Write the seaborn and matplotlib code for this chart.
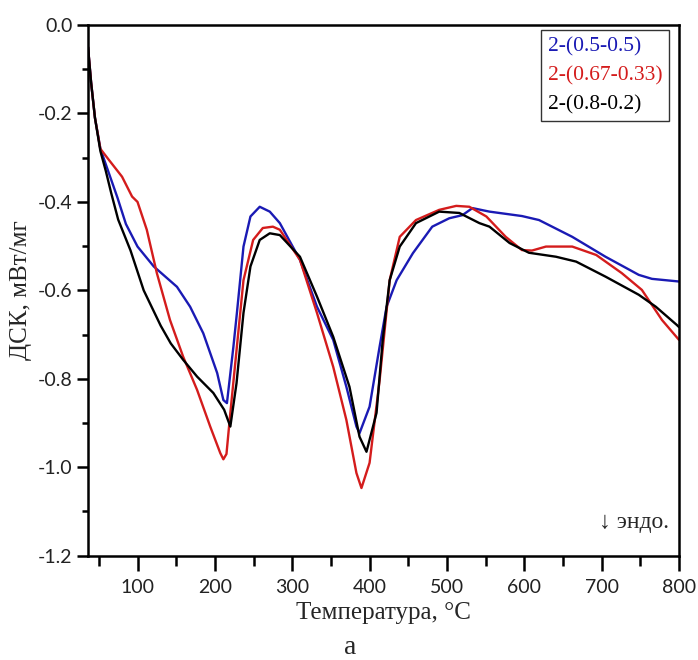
import numpy as np
import pandas as pd
import matplotlib
matplotlib.use("Agg")
import matplotlib.pyplot as plt
import seaborn as sns
from matplotlib.ticker import MultipleLocator

sns.set_theme(style="white")
plt.rcParams['axes.unicode_minus'] = False

labels = ["2-(0.5-0.5)", "2-(0.67-0.33)", "2-(0.8-0.2)"]
colors = ["#1a1ab4", "#d41c1c", "#000000"]

blue_x = [36, 40, 45, 52, 62, 74, 85, 100, 121, 151, 168, 185, 203, 211, 215.6, 224, 228.5, 237, 246, 258,
          271, 284, 310, 332, 353, 370, 383, 387, 400, 413, 422, 435, 456, 481, 503, 520, 533, 555, 597,
          619, 662, 705, 748, 765, 800]
blue_y = [-0.05, -0.13, -0.21, -0.28, -0.33, -0.39, -0.45, -0.501, -0.546, -0.592, -0.637, -0.697, -0.787,
          -0.848, -0.855, -0.727, -0.651, -0.501, -0.433, -0.411, -0.422, -0.448, -0.531, -0.637, -0.712,
          -0.818, -0.908, -0.923, -0.863, -0.727, -0.637, -0.577, -0.516, -0.456, -0.437, -0.43, -0.414,
          -0.422, -0.432, -0.441, -0.479, -0.524, -0.565, -0.574, -0.58]

red_x = [36, 40, 45, 52, 63, 80, 93, 100, 112, 125, 142, 159, 177, 194, 207, 211, 215, 220, 228.5, 237,
         249.5, 262, 275, 284, 310, 332, 353, 370, 383, 389.5, 400, 413, 426, 439, 460, 490, 512, 529, 551,
         576, 597, 610, 628, 662, 693, 726, 752, 765, 778, 800]
red_y = [-0.05, -0.13, -0.21, -0.28, -0.305, -0.343, -0.388, -0.40, -0.463, -0.561, -0.667, -0.75, -0.825,
         -0.908, -0.968, -0.982, -0.97, -0.877, -0.727, -0.577, -0.486, -0.459, -0.456, -0.463, -0.531,
         -0.651, -0.773, -0.893, -1.013, -1.047, -0.99, -0.803, -0.577, -0.479, -0.441, -0.418, -0.409,
         -0.411, -0.433, -0.479, -0.509, -0.51, -0.501, -0.501, -0.52, -0.561, -0.599, -0.633, -0.667,
         -0.712]

black_x = [36, 40, 45, 52, 59, 66, 75, 91, 108, 130, 143, 159, 177, 198, 212, 220, 228, 237, 246, 258,
           271, 284, 310, 332, 353, 374, 387, 396, 409, 417, 426, 439, 460, 490, 516, 542, 555, 581, 606,
           641, 667, 705, 748, 770, 797, 800]
black_y = [-0.05, -0.13, -0.21, -0.285, -0.33, -0.38, -0.44, -0.51, -0.6, -0.68, -0.72, -0.757, -0.795,
           -0.832, -0.87, -0.908, -0.81, -0.651, -0.546, -0.486, -0.471, -0.475, -0.524, -0.614, -0.705,
           -0.818, -0.931, -0.965, -0.877, -0.712, -0.577, -0.501, -0.448, -0.422, -0.425, -0.448, -0.456,
           -0.493, -0.515, -0.524, -0.535, -0.569, -0.61, -0.637, -0.678, -0.683]

frames = []
for lab, xs, ys in zip(labels, [blue_x, red_x, black_x], [blue_y, red_y, black_y]):
    frames.append(pd.DataFrame({"T": xs, "DSC": ys, "series": lab}))
df = pd.concat(frames, ignore_index=True)

fig = plt.figure(figsize=(6.98, 6.60), dpi=100)
ax = fig.add_axes([88/698, 1-555.7/660, (679-88)/698, (555.7-25)/660])

sns.lineplot(data=df, x="T", y="DSC", hue="series", hue_order=labels,
             palette=dict(zip(labels, colors)), sort=False, estimator=None,
             linewidth=1.7, ax=ax, legend=False)

ax.set_xlim(36, 800)
ax.set_ylim(-1.2, 0.0)
ax.xaxis.set_major_locator(MultipleLocator(100))
ax.xaxis.set_minor_locator(MultipleLocator(50))
ax.yaxis.set_major_locator(MultipleLocator(0.2))
ax.yaxis.set_minor_locator(MultipleLocator(0.1))
ax.yaxis.set_major_formatter(matplotlib.ticker.FormatStrFormatter('%.1f'))
ax.xaxis.set_major_formatter(matplotlib.ticker.FormatStrFormatter('%d'))

for s in ax.spines.values():
    s.set_linewidth(1.8)
    s.set_color("black")

ax.tick_params(axis='x', which='major', direction='out', length=11, width=1.8, color='black',
               bottom=True, top=False, labelsize=14, pad=6)
ax.tick_params(axis='x', which='minor', direction='out', length=7, width=1.8, color='black',
               bottom=True, top=False)
ax.tick_params(axis='y', which='major', direction='out', length=8, width=1.8, color='black',
               left=True, right=False, labelsize=14, pad=3)
ax.tick_params(axis='y', which='minor', direction='out', length=4, width=1.8, color='black',
               left=True, right=False)
for lab in ax.get_xticklabels() + ax.get_yticklabels():
    lab.set_family(["Lato", "DejaVu Sans"])
    lab.set_color("#222222")

serif = ["Liberation Serif", "DejaVu Serif"]
ax.set_xlabel("Температура, °С", fontsize=18, family=serif, labelpad=4)
ax.set_ylabel("ДСК, мВт/мг", fontsize=18, family=serif, labelpad=4)

handles = [plt.Line2D([], [], color=c, linewidth=0) for c in colors]
leg = ax.legend(handles, labels, loc="upper right",
                bbox_to_anchor=(1 - 10/591, 1 - 5/530.7), borderaxespad=0,
                handlelength=0, handletextpad=0, labelcolor=colors,
                prop={"family": serif, "size": 15.5}, frameon=True, fancybox=False,
                borderpad=0.3, labelspacing=0.42)
leg.get_frame().set_edgecolor("black")
leg.get_frame().set_linewidth(1.0)

ax.text(0.983, 0.062, "↓ эндо.", transform=ax.transAxes, ha="right", va="center",
        fontsize=17, family=serif)
fig.text(350/698, 1 - 647/660, "а", ha="center", va="center", fontsize=20, family=serif)

fig.savefig("out.png", dpi=100, facecolor="white")
